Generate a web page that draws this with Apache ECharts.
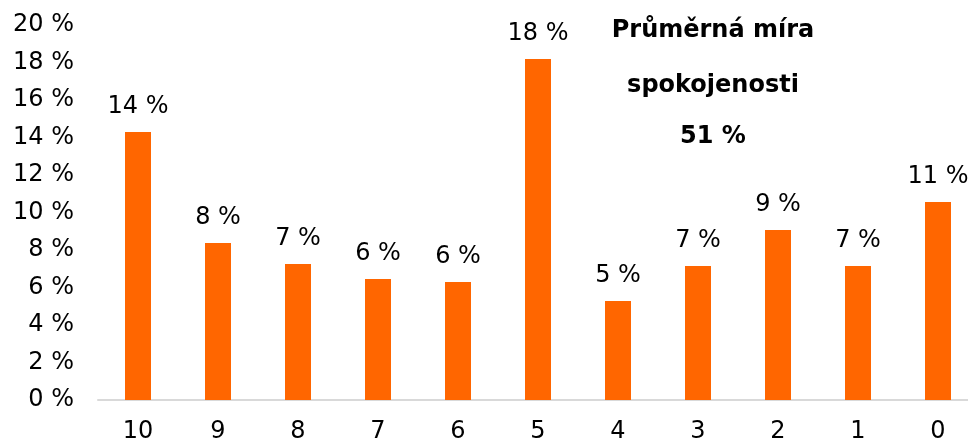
<!DOCTYPE html>
<html>
<head>
<meta charset="utf-8">
<script src="https://cdn.jsdelivr.net/npm/echarts@6/dist/echarts.min.js"></script>
<style>
html, body { margin: 0; padding: 0; background: #fff; }
#chart { width: 968px; height: 443px; }
</style>
</head>
<body>
<div id="chart"></div>
<script>
const categories = ['10', '9', '8', '7', '6', '5', '4', '3', '2', '1', '0'];
const shares = [14.3, 8.37, 7.25, 6.45, 6.29, 18.19, 5.28, 7.15, 9.07, 7.15, 10.56];
const noteLines = ['Průměrná míra', 'spokojenosti', '51 %'];

const font = 'Verdana, "DejaVu Sans", sans-serif';
const chart = echarts.init(document.getElementById('chart'));

chart.setOption({
    animation: false,
    grid: { left: 98, width: 880, top: 25, bottom: 43, outerBoundsMode: 'none', containLabel: false },
    xAxis: {
        type: 'category',
        data: categories,
        axisLine: { lineStyle: { color: '#d9d9d9', width: 2 } },
        axisTick: { show: false },
        axisLabel: { color: '#000', fontSize: 24, fontFamily: font, margin: 20 }
    },
    yAxis: {
        type: 'value',
        min: 0,
        max: 20,
        interval: 2,
        splitLine: { show: false },
        axisLine: { show: false },
        axisLabel: {
            color: '#000', fontSize: 24, fontFamily: font, margin: 24,
            formatter: v => v + ' %'
        }
    },
    series: [{
        type: 'bar',
        data: shares,
        barWidth: 26,
        itemStyle: { color: '#ff6600' },
        label: {
            show: true,
            position: 'top',
            distance: 13,
            color: '#000',
            fontSize: 24,
            fontFamily: font,
            formatter: p => Math.round(p.value) + ' %'
        }
    }],
    graphic: noteLines.map((t, i) => ({
        type: 'text',
        x: 713,
        y: [31, 86, 137][i],
        style: {
            text: t,
            fill: '#000',
            font: 'bold 24px ' + font,
            textAlign: 'center',
            textVerticalAlign: 'middle'
        }
    }))
});
</script>
</body>
</html>
